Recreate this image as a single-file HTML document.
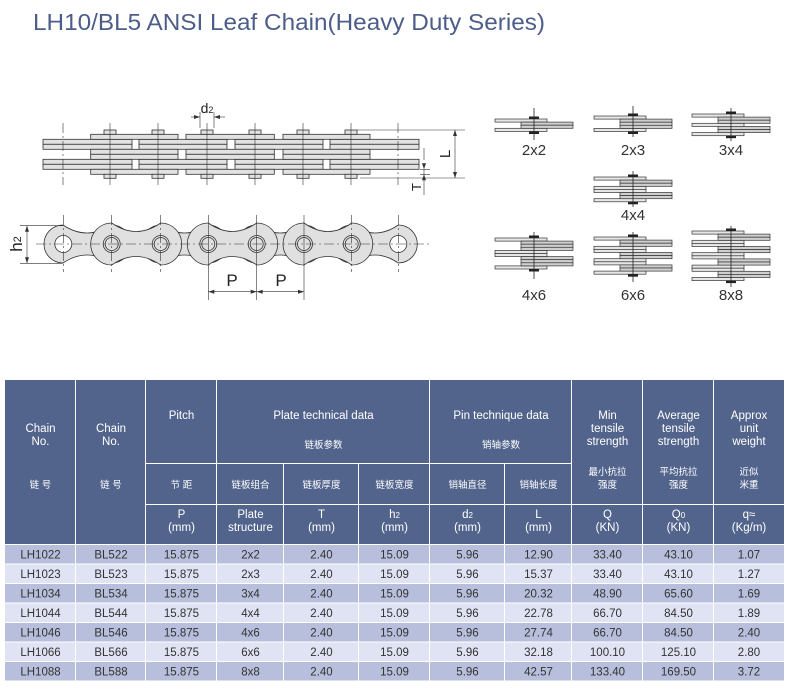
<!DOCTYPE html>
<html><head><meta charset="utf-8"><style>
html,body{margin:0;padding:0;background:#fff;}
svg{display:block;font-family:"Liberation Sans","Noto Sans CJK SC",sans-serif;}
</style></head><body>
<svg width="790" height="691" viewBox="0 0 790 691" xmlns="http://www.w3.org/2000/svg">
<text x="33" y="30" font-size="23" fill="#4d5d8a" textLength="512" lengthAdjust="spacingAndGlyphs">LH10/BL5 ANSI Leaf Chain(Heavy Duty Series)</text>

<!-- TOP VIEW -->
<g stroke="#333" stroke-width="0.8" fill="#e2e2e2">
  <!-- long plates -->
  <g>
    <rect x="43" y="139.3" width="89" height="5"/><rect x="43" y="144.3" width="89" height="5"/>
    <rect x="139" y="139.3" width="88" height="5"/><rect x="139" y="144.3" width="88" height="5"/>
    <rect x="235" y="139.3" width="88" height="5"/><rect x="235" y="144.3" width="88" height="5"/>
    <rect x="330" y="139.3" width="89" height="5"/><rect x="330" y="144.3" width="89" height="5"/>
    <rect x="43" y="159.3" width="89" height="5"/><rect x="43" y="164.3" width="89" height="5"/>
    <rect x="139" y="159.3" width="88" height="5"/><rect x="139" y="164.3" width="88" height="5"/>
    <rect x="235" y="159.3" width="88" height="5"/><rect x="235" y="164.3" width="88" height="5"/>
    <rect x="330" y="159.3" width="89" height="5"/><rect x="330" y="164.3" width="89" height="5"/>
  </g>
  <!-- short plates -->
  <g>
    <rect x="90.7" y="134.3" width="87.3" height="5"/><rect x="186" y="134.3" width="88.3" height="5"/><rect x="283" y="134.3" width="87" height="5"/>
    <rect x="90.7" y="149.3" width="87.3" height="5"/><rect x="186" y="149.3" width="88.3" height="5"/><rect x="283" y="149.3" width="87" height="5"/>
    <rect x="90.7" y="154.3" width="87.3" height="5"/><rect x="186" y="154.3" width="88.3" height="5"/><rect x="283" y="154.3" width="87" height="5"/>
    <rect x="90.7" y="169.3" width="87.3" height="5"/><rect x="186" y="169.3" width="88.3" height="5"/><rect x="283" y="169.3" width="87" height="5"/>
  </g>
  <!-- pin heads -->
  <g>
    <rect x="104" y="130" width="12" height="4.3"/><rect x="152" y="130" width="12" height="4.3"/><rect x="201" y="130" width="12" height="4.3"/><rect x="249" y="130" width="12" height="4.3"/><rect x="297" y="130" width="12" height="4.3"/><rect x="345" y="130" width="12" height="4.3"/>
    <rect x="104" y="174.3" width="12" height="4" /><rect x="152" y="174.3" width="12" height="4"/><rect x="201" y="174.3" width="12" height="4"/><rect x="249" y="174.3" width="12" height="4"/><rect x="297" y="174.3" width="12" height="4"/><rect x="345" y="174.3" width="12" height="4"/>
  </g>
</g>
<g stroke="#333" stroke-width="0.6" fill="none">
  <line x1="110" y1="123" x2="110" y2="185"/><line x1="158" y1="123" x2="158" y2="185"/><line x1="207" y1="123" x2="207" y2="185"/><line x1="255" y1="123" x2="255" y2="185"/><line x1="303" y1="123" x2="303" y2="185"/><line x1="351" y1="123" x2="351" y2="185"/>
  <line x1="63" y1="123" x2="63" y2="185" stroke-dasharray="10,3,2,3"/><line x1="398" y1="123" x2="398" y2="185" stroke-dasharray="10,3,2,3"/>
  <!-- d2 -->
  <line x1="200" y1="112" x2="200" y2="128"/><line x1="214" y1="112" x2="214" y2="128"/>
  <line x1="191" y1="117" x2="200" y2="117"/><line x1="214" y1="117" x2="225" y2="117"/>
  <!-- L -->
  <line x1="357" y1="130" x2="465" y2="130"/><line x1="360" y1="178" x2="465" y2="178"/>
  <line x1="455" y1="130" x2="455" y2="178"/>
  <!-- T -->
  <line x1="424" y1="148" x2="424" y2="160"/><line x1="424" y1="169" x2="424" y2="195"/>
  <line x1="420" y1="169.3" x2="430" y2="169.3"/><line x1="420" y1="174.3" x2="430" y2="174.3"/>
</g>
<g fill="#333">
  <path d="M200,117 l-6,-2 v4z"/><path d="M214,117 l6,-2 v4z"/>
  <path d="M455,130 l-2,6 h4z"/><path d="M455,178 l-2,-6 h4z"/>
  <path d="M424,169.3 l-2,-6 h4z"/><path d="M424,174.3 l-2,6 h4z"/>
</g>
<text x="207" y="113" font-size="14" text-anchor="middle" fill="#222">d<tspan font-size="9">2</tspan></text>
<text transform="translate(450,154) rotate(-90)" font-size="15" text-anchor="middle" fill="#222">L</text>
<text transform="translate(421,187) rotate(-90)" font-size="13" text-anchor="middle" fill="#222">T</text>

<!-- SIDE VIEW -->
<g stroke="#333" stroke-width="0.8" fill="#e0e0e0">
  <path d="M63,225 Q87,241 111.7,225 A19,19 0 0 1 111.7,263 Q87,247 63,263 A19,19 0 0 1 63,225Z"/>
  <path d="M160.7,225 Q184.5,241 208.3,225 A19,19 0 0 1 208.3,263 Q184.5,247 160.7,263 A19,19 0 0 1 160.7,225Z"/>
  <path d="M256.7,225 Q280,241 304,225 A19,19 0 0 1 304,263 Q280,247 256.7,263 A19,19 0 0 1 256.7,225Z"/>
  <path d="M351.7,225 Q375,241 398.3,225 A19,19 0 0 1 398.3,263 Q375,247 351.7,263 A19,19 0 0 1 351.7,225Z"/>
  <path d="M111.7,223 Q136,240 160.7,223 A21,21 0 0 1 160.7,265 Q136,248 111.7,265 A21,21 0 0 1 111.7,223Z"/>
  <path d="M208.3,223 Q232.5,240 256.7,223 A21,21 0 0 1 256.7,265 Q232.5,248 208.3,265 A21,21 0 0 1 208.3,223Z"/>
  <path d="M304,223 Q328,240 351.7,223 A21,21 0 0 1 351.7,265 Q328,248 304,265 A21,21 0 0 1 304,223Z"/>
  <circle cx="63.3" cy="244" r="8.5" fill="#fff"/><circle cx="398.3" cy="244" r="8.5" fill="#fff"/>
  <circle cx="111.7" cy="244" r="8.5"/><circle cx="160.7" cy="244" r="8.5"/><circle cx="208.3" cy="244" r="8.5"/><circle cx="256.7" cy="244" r="8.5"/><circle cx="304" cy="244" r="8.5"/><circle cx="351.7" cy="244" r="8.5"/>
  <circle cx="111.7" cy="244" r="6.5"/><circle cx="160.7" cy="244" r="6.5"/><circle cx="208.3" cy="244" r="6.5"/><circle cx="256.7" cy="244" r="6.5"/><circle cx="304" cy="244" r="6.5"/><circle cx="351.7" cy="244" r="6.5"/>
</g>
<g stroke="#333" stroke-width="0.6" fill="none" stroke-dasharray="10,3,2,3">
  <line x1="36" y1="244" x2="432" y2="244"/>
  <line x1="63.3" y1="215" x2="63.3" y2="272"/><line x1="111.7" y1="215" x2="111.7" y2="272"/><line x1="160.7" y1="215" x2="160.7" y2="272"/><line x1="398.3" y1="215" x2="398.3" y2="272"/><line x1="351.7" y1="215" x2="351.7" y2="272"/>
</g>
<g stroke="#333" stroke-width="0.6" fill="none">
  <line x1="208.3" y1="215" x2="208.3" y2="300"/><line x1="256.7" y1="215" x2="256.7" y2="300"/><line x1="304" y1="215" x2="304" y2="300"/>
  <line x1="208.3" y1="291.7" x2="256.7" y2="291.7"/><line x1="256.7" y1="291.7" x2="304" y2="291.7"/>
  <line x1="20" y1="225.7" x2="63" y2="225.7"/><line x1="20" y1="263.3" x2="63" y2="263.3"/>
  <line x1="27" y1="225.7" x2="27" y2="263.3"/>
</g>
<g fill="#333">
  <path d="M208.3,291.7 l6,-2 v4z"/><path d="M256.7,291.7 l-6,-2 v4z"/><path d="M256.7,291.7 l6,-2 v4z"/><path d="M304,291.7 l-6,-2 v4z"/>
  <path d="M27,225.7 l-2,6 h4z"/><path d="M27,263.3 l-2,-6 h4z"/>
</g>
<text x="232" y="286" font-size="17" text-anchor="middle" fill="#222">P</text>
<text x="281" y="286" font-size="17" text-anchor="middle" fill="#222">P</text>
<text transform="translate(22,244) rotate(-90)" font-size="17" text-anchor="middle" fill="#222">h<tspan font-size="11" dy="-1">2</tspan></text>

<!-- SMALL CONFIGS -->
<g stroke="#333" stroke-width="0.7">
  <!-- 2x2 pin 534 top 119 -->
  <g fill="#e6e6e6"><rect x="495" y="119" width="52" height="3.1"/><rect x="495" y="128.3" width="52" height="3.1"/></g>
  <g fill="#cfcfcf"><rect x="521" y="122.1" width="52" height="3.1"/><rect x="521" y="125.2" width="52" height="3.1"/></g>
  <!-- 2x3 pin 633 top 116 -->
  <g fill="#e6e6e6"><rect x="594" y="116" width="52" height="3.1"/><rect x="594" y="128.4" width="52" height="3.1"/></g>
  <g fill="#cfcfcf"><rect x="620" y="119.1" width="52" height="3.1"/><rect x="620" y="122.2" width="52" height="3.1"/><rect x="620" y="125.3" width="52" height="3.1"/></g>
  <!-- 3x4 pin 731 top 114 -->
  <g fill="#e6e6e6"><rect x="692" y="114" width="52" height="3.1"/><rect x="692" y="123.3" width="52" height="3.1"/><rect x="692" y="132.6" width="52" height="3.1"/></g>
  <g fill="#cfcfcf"><rect x="718" y="117.1" width="52" height="3.1"/><rect x="718" y="120.2" width="52" height="3.1"/><rect x="718" y="126.4" width="52" height="3.1"/><rect x="718" y="129.5" width="52" height="3.1"/></g>
  <!-- 4x4 pin 633 top 177 -->
  <g fill="#e6e6e6"><rect x="594" y="177" width="52" height="3.1"/><rect x="594" y="186.3" width="52" height="3.1"/><rect x="594" y="189.4" width="52" height="3.1"/><rect x="594" y="198.7" width="52" height="3.1"/></g>
  <g fill="#cfcfcf"><rect x="620" y="180.1" width="52" height="3.1"/><rect x="620" y="183.2" width="52" height="3.1"/><rect x="620" y="192.5" width="52" height="3.1"/><rect x="620" y="195.6" width="52" height="3.1"/></g>
  <!-- 4x6 pin 534 top 238 -->
  <g fill="#e6e6e6"><rect x="495" y="238" width="52" height="3.1"/><rect x="495" y="250.4" width="52" height="3.1"/><rect x="495" y="253.5" width="52" height="3.1"/><rect x="495" y="265.9" width="52" height="3.1"/></g>
  <g fill="#cfcfcf"><rect x="521" y="241.1" width="52" height="3.1"/><rect x="521" y="244.2" width="52" height="3.1"/><rect x="521" y="247.3" width="52" height="3.1"/><rect x="521" y="256.6" width="52" height="3.1"/><rect x="521" y="259.7" width="52" height="3.1"/><rect x="521" y="262.8" width="52" height="3.1"/></g>
  <!-- 6x6 pin 633 top 237 -->
  <g fill="#e6e6e6"><rect x="594" y="237" width="52" height="3.1"/><rect x="594" y="246.3" width="52" height="3.1"/><rect x="594" y="249.4" width="52" height="3.1"/><rect x="594" y="258.7" width="52" height="3.1"/><rect x="594" y="261.8" width="52" height="3.1"/><rect x="594" y="271.1" width="52" height="3.1"/></g>
  <g fill="#cfcfcf"><rect x="620" y="240.1" width="52" height="3.1"/><rect x="620" y="243.2" width="52" height="3.1"/><rect x="620" y="252.5" width="52" height="3.1"/><rect x="620" y="255.6" width="52" height="3.1"/><rect x="620" y="264.9" width="52" height="3.1"/><rect x="620" y="268" width="52" height="3.1"/></g>
  <!-- 8x8 pin 731 top 231 -->
  <g fill="#e6e6e6"><rect x="692" y="231" width="52" height="3.1"/><rect x="692" y="240.3" width="52" height="3.1"/><rect x="692" y="243.4" width="52" height="3.1"/><rect x="692" y="252.7" width="52" height="3.1"/><rect x="692" y="255.8" width="52" height="3.1"/><rect x="692" y="265.1" width="52" height="3.1"/><rect x="692" y="268.2" width="52" height="3.1"/><rect x="692" y="277.5" width="52" height="3.1"/></g>
  <g fill="#cfcfcf"><rect x="718" y="234.1" width="52" height="3.1"/><rect x="718" y="237.2" width="52" height="3.1"/><rect x="718" y="246.5" width="52" height="3.1"/><rect x="718" y="249.6" width="52" height="3.1"/><rect x="718" y="258.9" width="52" height="3.1"/><rect x="718" y="262" width="52" height="3.1"/><rect x="718" y="271.3" width="52" height="3.1"/><rect x="718" y="274.4" width="52" height="3.1"/></g>
</g>
<g stroke="#222" stroke-width="0.8">
  <line x1="534" y1="108" x2="534" y2="140"/><line x1="633" y1="106" x2="633" y2="137"/><line x1="731" y1="108" x2="731" y2="141"/>
  <line x1="633" y1="171" x2="633" y2="207"/><line x1="534" y1="232" x2="534" y2="279"/><line x1="633" y1="232" x2="633" y2="282"/><line x1="731" y1="226" x2="731" y2="287"/>
</g>
<g fill="#222">
  <rect x="529" y="116.5" width="10" height="2.5"/><rect x="529" y="131.5" width="10" height="2.5"/>
  <rect x="628" y="113.5" width="10" height="2.5"/><rect x="628" y="131.5" width="10" height="2.5"/>
  <rect x="726" y="111.5" width="10" height="2.5"/><rect x="726" y="135.7" width="10" height="2.5"/>
  <rect x="628" y="174.5" width="10" height="2.5"/><rect x="628" y="201.8" width="10" height="2.5"/>
  <rect x="529" y="235.5" width="10" height="2.5"/><rect x="529" y="269" width="10" height="2.5"/>
  <rect x="628" y="234.5" width="10" height="2.5"/><rect x="628" y="274.2" width="10" height="2.5"/>
  <rect x="726" y="228.5" width="10" height="2.5"/><rect x="726" y="280.6" width="10" height="2.5"/>
</g>
<g font-size="15" fill="#333" text-anchor="middle">
  <text x="534" y="155">2x2</text><text x="633" y="155">2x3</text><text x="731" y="155">3x4</text>
  <text x="633" y="220">4x4</text>
  <text x="534" y="300">4x6</text><text x="633" y="300">6x6</text><text x="731" y="300">8x8</text>
</g>

<!-- TABLE -->
<g fill="#52648c">
  <rect x="5" y="380" width="70" height="164"/><rect x="76" y="380" width="69" height="164"/>
  <rect x="146" y="380" width="70" height="83"/><rect x="146" y="464" width="70" height="40"/><rect x="146" y="505" width="70" height="39"/>
  <rect x="217" y="380" width="212" height="83"/>
  <rect x="217" y="464" width="66" height="40"/><rect x="284" y="464" width="74" height="40"/><rect x="359" y="464" width="70" height="40"/>
  <rect x="217" y="505" width="66" height="39"/><rect x="284" y="505" width="74" height="39"/><rect x="359" y="505" width="70" height="39"/>
  <rect x="430" y="380" width="141" height="83"/>
  <rect x="430" y="464" width="74" height="40"/><rect x="505" y="464" width="66" height="40"/>
  <rect x="430" y="505" width="74" height="39"/><rect x="505" y="505" width="66" height="39"/>
  <rect x="572" y="380" width="70" height="124"/><rect x="572" y="505" width="70" height="39"/>
  <rect x="643" y="380" width="70" height="124"/><rect x="643" y="505" width="70" height="39"/>
  <rect x="714" y="380" width="70" height="124"/><rect x="714" y="505" width="70" height="39"/>
</g>
<g fill="#fff" text-anchor="middle" font-size="11.5">
  <text x="40.5" y="432">Chain</text><text x="40.5" y="445">No.</text>
  <text x="111" y="432">Chain</text><text x="111" y="445">No.</text>
  <text x="181.5" y="419">Pitch</text>
  <text x="323.5" y="419">Plate technical data</text>
  <text x="501" y="419">Pin technique data</text>
  <text x="607.5" y="419">Min</text><text x="607.5" y="432">tensile</text><text x="607.5" y="445">strength</text>
  <text x="678.5" y="419">Average</text><text x="678.5" y="432">tensile</text><text x="678.5" y="445">strength</text>
  <text x="749" y="419">Approx</text><text x="749" y="432">unit</text><text x="749" y="445">weight</text>
  <text x="181.5" y="518">P</text><text x="181.5" y="531">(mm)</text>
  <text x="250.5" y="518">Plate</text><text x="250.5" y="531">structure</text>
  <text x="321.5" y="518">T</text><text x="321.5" y="531">(mm)</text>
  <text x="394.5" y="518">h<tspan font-size="8">2</tspan></text><text x="394.5" y="531">(mm)</text>
  <text x="467.5" y="518">d<tspan font-size="8">2</tspan></text><text x="467.5" y="531">(mm)</text>
  <text x="538.5" y="518">L</text><text x="538.5" y="531">(mm)</text>
  <text x="607.5" y="518">Q</text><text x="607.5" y="531">(KN)</text>
  <text x="678.5" y="518">Q<tspan font-size="8">0</tspan></text><text x="678.5" y="531">(KN)</text>
  <text x="749" y="518">q≈</text><text x="749" y="531">(Kg/m)</text>
</g>
<g fill="#fff" text-anchor="middle" font-size="9.5">
  <text x="40.5" y="488">链 号</text><text x="111" y="488">链 号</text>
  <text x="181.5" y="488">节 距</text>
  <text x="323.5" y="448">链板参数</text><text x="501" y="448">销轴参数</text>
  <text x="250.5" y="488">链板组合</text><text x="321.5" y="488">链板厚度</text><text x="394.5" y="488">链板宽度</text>
  <text x="467.5" y="488">销轴直径</text><text x="538.5" y="488">销轴长度</text>
  <text x="607.5" y="475">最小抗拉</text><text x="607.5" y="488">强度</text>
  <text x="678.5" y="475">平均抗拉</text><text x="678.5" y="488">强度</text>
  <text x="749" y="475">近似</text><text x="749" y="488">米重</text>
</g>
<!-- data row backgrounds -->
<g>
  <g fill="#b7bfdc">
    <rect x="5" y="545" width="779" height="18.5"/><rect x="5" y="584" width="779" height="18.5"/><rect x="5" y="623" width="779" height="18.5"/><rect x="5" y="662" width="779" height="18.5"/>
  </g>
  <g fill="#dfe3f3">
    <rect x="5" y="564.5" width="779" height="18.5"/><rect x="5" y="603.5" width="779" height="18.5"/><rect x="5" y="642.5" width="779" height="18.5"/>
  </g>
  <g stroke="#fff" stroke-width="1">
    <line x1="75.5" y1="544" x2="75.5" y2="681"/><line x1="145.5" y1="544" x2="145.5" y2="681"/><line x1="216.5" y1="544" x2="216.5" y2="681"/><line x1="283.5" y1="544" x2="283.5" y2="681"/><line x1="358.5" y1="544" x2="358.5" y2="681"/><line x1="429.5" y1="544" x2="429.5" y2="681"/><line x1="504.5" y1="544" x2="504.5" y2="681"/><line x1="571.5" y1="544" x2="571.5" y2="681"/><line x1="642.5" y1="544" x2="642.5" y2="681"/><line x1="713.5" y1="544" x2="713.5" y2="681"/>
  </g>
</g>
<g fill="#333" text-anchor="middle" font-size="11.5">
  <g transform="translate(0,558.5)"><text x="40.5">LH1022</text><text x="111">BL522</text><text x="181.5">15.875</text><text x="250.5">2x2</text><text x="321.5">2.40</text><text x="394.5">15.09</text><text x="467.5">5.96</text><text x="538.5">12.90</text><text x="607.5">33.40</text><text x="678.5">43.10</text><text x="749">1.07</text></g>
  <g transform="translate(0,578)"><text x="40.5">LH1023</text><text x="111">BL523</text><text x="181.5">15.875</text><text x="250.5">2x3</text><text x="321.5">2.40</text><text x="394.5">15.09</text><text x="467.5">5.96</text><text x="538.5">15.37</text><text x="607.5">33.40</text><text x="678.5">43.10</text><text x="749">1.27</text></g>
  <g transform="translate(0,597.5)"><text x="40.5">LH1034</text><text x="111">BL534</text><text x="181.5">15.875</text><text x="250.5">3x4</text><text x="321.5">2.40</text><text x="394.5">15.09</text><text x="467.5">5.96</text><text x="538.5">20.32</text><text x="607.5">48.90</text><text x="678.5">65.60</text><text x="749">1.69</text></g>
  <g transform="translate(0,617)"><text x="40.5">LH1044</text><text x="111">BL544</text><text x="181.5">15.875</text><text x="250.5">4x4</text><text x="321.5">2.40</text><text x="394.5">15.09</text><text x="467.5">5.96</text><text x="538.5">22.78</text><text x="607.5">66.70</text><text x="678.5">84.50</text><text x="749">1.89</text></g>
  <g transform="translate(0,636.5)"><text x="40.5">LH1046</text><text x="111">BL546</text><text x="181.5">15.875</text><text x="250.5">4x6</text><text x="321.5">2.40</text><text x="394.5">15.09</text><text x="467.5">5.96</text><text x="538.5">27.74</text><text x="607.5">66.70</text><text x="678.5">84.50</text><text x="749">2.40</text></g>
  <g transform="translate(0,656)"><text x="40.5">LH1066</text><text x="111">BL566</text><text x="181.5">15.875</text><text x="250.5">6x6</text><text x="321.5">2.40</text><text x="394.5">15.09</text><text x="467.5">5.96</text><text x="538.5">32.18</text><text x="607.5">100.10</text><text x="678.5">125.10</text><text x="749">2.80</text></g>
  <g transform="translate(0,675.5)"><text x="40.5">LH1088</text><text x="111">BL588</text><text x="181.5">15.875</text><text x="250.5">8x8</text><text x="321.5">2.40</text><text x="394.5">15.09</text><text x="467.5">5.96</text><text x="538.5">42.57</text><text x="607.5">133.40</text><text x="678.5">169.50</text><text x="749">3.72</text></g>
</g>
</svg>
</body></html>
